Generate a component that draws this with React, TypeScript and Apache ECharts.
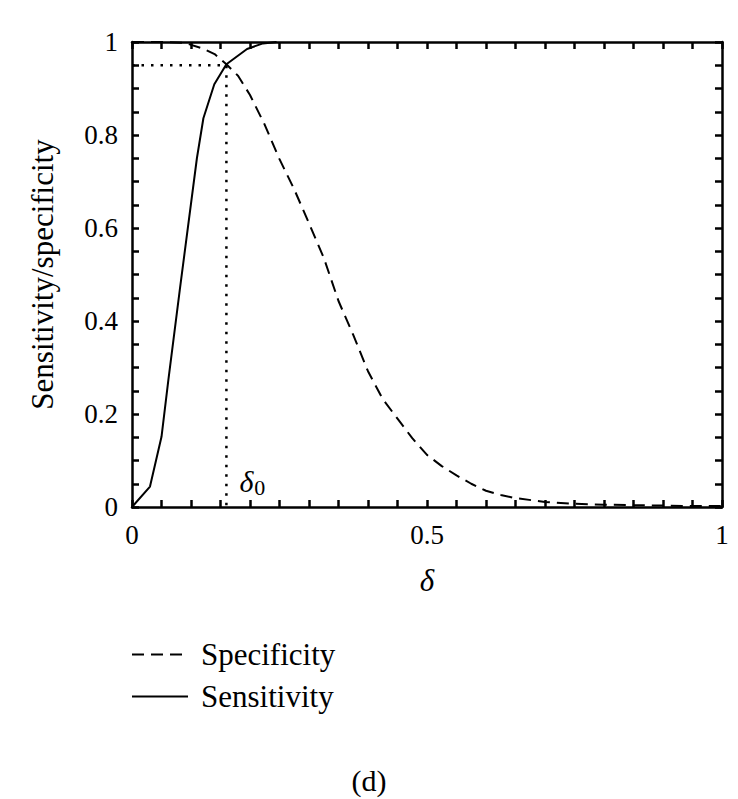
import React, { useEffect, useRef } from "react";
import * as echarts from "echarts";

// Sensitivity (solid) curve
const sensX = [0, 0.0305, 0.05, 0.0616, 0.081, 0.11, 0.121, 0.1395, 0.16, 0.195, 0.222, 0.245];
const sensY = [0, 0.044, 0.151, 0.273, 0.467, 0.75, 0.836, 0.909, 0.952, 0.985, 0.997, 1.0];

// Specificity (dashed) curve
const specX = [0, 0.05, 0.09, 0.12, 0.14, 0.16, 0.18, 0.2, 0.225, 0.25, 0.275, 0.3, 0.325, 0.35, 0.375, 0.4, 0.425, 0.45, 0.475, 0.5, 0.525, 0.55, 0.575, 0.6, 0.625, 0.65, 0.7, 0.75, 0.8, 0.85, 0.9, 0.95, 1];
const specY = [1, 1, 0.998, 0.986, 0.974, 0.952, 0.927, 0.886, 0.822, 0.748, 0.683, 0.61, 0.536, 0.443, 0.37, 0.292, 0.232, 0.19, 0.148, 0.112, 0.088, 0.068, 0.05, 0.035, 0.026, 0.019, 0.011, 0.007, 0.005, 0.004, 0.003, 0.002, 0.002];

// Threshold delta_0 and the level where the curves cross
const delta0 = 0.16;
const crossLevel = 0.95;

const xTickLabels = ["0", "0.5", "1"];
const yTickLabels = ["0", "0.2", "0.4", "0.6", "0.8", "1"];

const FONT = "'Liberation Serif', 'Times New Roman', serif";

function zip(xs: number[], ys: number[]) {
  return xs.map((x, i) => [x, ys[i]]);
}

export default function App() {
  const ref = useRef<HTMLDivElement>(null);
  useEffect(() => {
    if (!ref.current) return;
    const chart = echarts.init(ref.current, undefined, { renderer: "svg" });
    const axisLine = { show: true, onZero: false, lineStyle: { color: "#000", width: 2.5 } };
    const tick = { show: true, inside: true, length: 7, lineStyle: { color: "#000", width: 2.5 } };
    const fmt = (labels: string[]) => (v: number) => {
      const s = String(Math.round(v * 100) / 100);
      return labels.includes(s) ? s : "";
    };
    const option: any = {
      animation: false,
      backgroundColor: "#fff",
      grid: { left: 132, right: 16, top: 42, bottom: 292, containLabel: false },
      xAxis: [
        {
          type: "value",
          min: 0,
          max: 1,
          interval: 0.05,
          position: "bottom",
          name: "δ",
          nameLocation: "middle",
          nameGap: 58,
          nameTextStyle: { fontFamily: FONT, fontSize: 31, fontStyle: "italic", color: "#000" },
          axisLine,
          axisTick: tick,
          splitLine: { show: false },
          axisLabel: { formatter: fmt(xTickLabels), fontFamily: FONT, fontSize: 27, color: "#000", margin: 14, showMinLabel: true, showMaxLabel: true, hideOverlap: false, interval: 0 },
        },
        {
          type: "value",
          min: 0,
          max: 1,
          interval: 0.05,
          position: "top",
          axisLine,
          axisTick: tick,
          splitLine: { show: false },
          axisLabel: { show: false },
        },
      ],
      yAxis: [
        {
          type: "value",
          min: 0,
          max: 1,
          interval: 0.05,
          position: "left",
          name: "Sensitivity/specificity",
          nameLocation: "middle",
          nameGap: 74,
          nameRotate: 90,
          nameTextStyle: { fontFamily: FONT, fontSize: 31, color: "#000" },
          axisLine,
          axisTick: tick,
          splitLine: { show: false },
          axisLabel: { formatter: fmt(yTickLabels), fontFamily: FONT, fontSize: 27, color: "#000", margin: 14, showMinLabel: true, showMaxLabel: true, hideOverlap: false, interval: 0 },
        },
        {
          type: "value",
          min: 0,
          max: 1,
          interval: 0.05,
          position: "right",
          axisLine,
          axisTick: tick,
          splitLine: { show: false },
          axisLabel: { show: false },
        },
      ],
      legend: {
        orient: "vertical",
        left: 126,
        top: 634,
        itemWidth: 56,
        itemHeight: 14,
        itemGap: 11,
        itemStyle: { opacity: 0 },
        textStyle: { fontFamily: FONT, fontSize: 31, color: "#000", padding: [0, 0, 0, 8] },
        data: ["Specificity", "Sensitivity"],
      },
      title: {
        text: "(d)",
        left: "center",
        top: 765,
        textStyle: { fontFamily: FONT, fontSize: 30, fontWeight: "normal", color: "#000" },
        padding: 0,
      },
      series: [
        {
          name: "Specificity",
          type: "line",
          data: zip(specX, specY),
          symbol: "none",
          color: "#000",
          lineStyle: { color: "#000", width: 2, type: [12, 7] },
          z: 3,
        },
        {
          name: "Sensitivity",
          type: "line",
          data: zip(sensX, sensY),
          symbol: "none",
          color: "#000",
          lineStyle: { color: "#000", width: 2, type: "solid" },
          z: 3,
        },
        {
          name: "threshold",
          type: "line",
          data: [
            [0, crossLevel],
            [delta0, crossLevel],
            [delta0, 0],
          ],
          symbol: "none",
          color: "#000",
          lineStyle: { color: "#000", width: 2.5, type: [2.5, 7] },
          z: 2,
          markPoint: {
            symbol: "circle",
            symbolSize: 0,
            data: [
              {
                coord: [delta0, 0],
                label: {
                  show: true,
                  position: "right",
                  offset: [8, -26],
                  formatter: "{d|δ}{s|0}",
                  rich: {
                    d: { fontFamily: FONT, fontSize: 30, fontStyle: "italic", color: "#000" },
                    s: { fontFamily: FONT, fontSize: 22, color: "#000", padding: [12, 0, 0, 1] },
                  },
                },
              },
            ],
          },
        },
      ],
    };
    chart.setOption(option);
    return () => chart.dispose();
  }, []);
  return (
    <div
      ref={ref}
      style={{ position: "absolute", left: 0, top: 0, width: 738, height: 799, background: "#fff" }}
    />
  );
}
